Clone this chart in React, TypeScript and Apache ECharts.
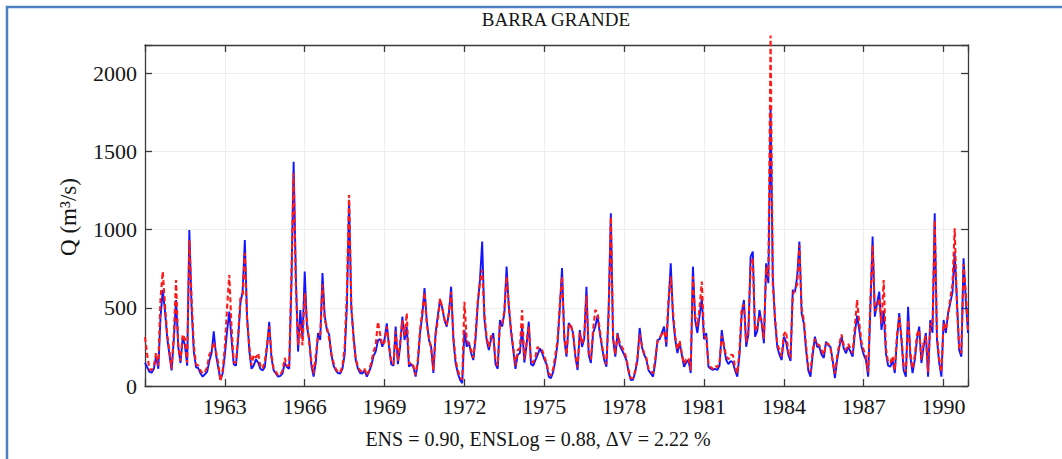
import React, { useEffect, useRef } from "react";
import * as echarts from "echarts";

const START_YEAR = 1960;
const X_TICKS = [1963, 1966, 1969, 1972, 1975, 1978, 1981, 1984, 1987, 1990];
const Y_TICKS = [0, 500, 1000, 1500, 2000];
const TITLE = "BARRA GRANDE";
const Y_LABEL = "Q (m\u00b3/s)";
const CAPTION = "ENS = 0.90, ENSLog = 0.88, \u0394V = 2.22 %";

// Monthly observed discharge (blue, solid), Jan 1960 .. Dec 1990
const observed = [
  150, 120, 90, 85, 110, 190, 110, 440, 614, 480, 310, 200, // 1960
  100, 300, 550, 250, 147, 310, 260, 130, 997, 500, 220, 120, // 1961
  115, 80, 60, 75, 90, 160, 210, 350, 200, 120, 40, 80, // 1962
  200, 350, 475, 300, 140, 130, 300, 530, 600, 933, 450, 230, // 1963
  110, 130, 170, 150, 110, 100, 120, 250, 411, 180, 100, 80, // 1964
  60, 65, 80, 150, 120, 110, 650, 1434, 700, 220, 486, 300, // 1965
  731, 380, 300, 130, 60, 150, 339, 294, 722, 450, 358, 330, // 1966
  200, 130, 100, 83, 80, 110, 200, 507, 1190, 500, 320, 166, // 1967
  110, 83, 80, 100, 60, 90, 130, 192, 220, 290, 300, 251, // 1968
  300, 400, 250, 140, 130, 380, 140, 250, 443, 294, 380, 123, // 1969
  140, 120, 60, 150, 339, 450, 626, 420, 294, 251, 83, 340, // 1970
  450, 550, 498, 420, 380, 465, 635, 300, 147, 83, 40, 18, // 1971
  358, 251, 280, 211, 166, 300, 520, 680, 923, 430, 294, 230, // 1972
  300, 339, 140, 110, 422, 380, 465, 763, 507, 350, 230, 110, // 1973
  200, 211, 380, 150, 260, 411, 140, 130, 166, 200, 240, 211, // 1974
  170, 140, 60, 50, 90, 166, 274, 500, 754, 300, 188, 402, // 1975
  380, 339, 188, 102, 358, 250, 300, 635, 200, 147, 339, 380, // 1976
  450, 339, 250, 166, 123, 486, 1104, 300, 188, 339, 260, 230, // 1977
  200, 166, 90, 38, 40, 90, 166, 371, 250, 200, 170, 100, // 1978
  80, 60, 147, 294, 300, 340, 380, 251, 520, 784, 443, 300, // 1979
  211, 274, 200, 123, 150, 166, 83, 763, 422, 339, 450, 560, // 1980
  300, 339, 123, 110, 102, 110, 102, 130, 358, 250, 166, 140, // 1981
  160, 150, 100, 60, 200, 465, 550, 251, 330, 827, 859, 315, // 1982
  350, 486, 400, 273, 784, 657, 1786, 700, 422, 251, 200, 166, // 1983
  315, 280, 200, 160, 614, 600, 700, 923, 465, 400, 230, 100, // 1984
  60, 200, 315, 250, 250, 200, 180, 283, 260, 250, 166, 50, // 1985
  166, 250, 315, 240, 209, 251, 220, 188, 339, 450, 358, 251, // 1986
  200, 166, 60, 500, 955, 443, 530, 603, 358, 480, 209, 130, // 1987
  123, 166, 83, 300, 466, 294, 100, 60, 507, 188, 83, 166, // 1988
  300, 380, 147, 250, 339, 60, 422, 340, 1104, 300, 150, 60, // 1989
  422, 339, 465, 530, 600, 850, 550, 230, 188, 816, 550, 339, // 1990
];

// Monthly simulated discharge (red, dashed), Jan 1960 .. Dec 1990
const simulated = [
  313, 200, 110, 100, 130, 210, 130, 560, 731, 520, 330, 230, // 1960
  110, 330, 678, 260, 160, 330, 300, 150, 933, 560, 260, 140, // 1961
  130, 100, 80, 90, 120, 200, 230, 280, 220, 150, 30, 100, // 1962
  250, 500, 710, 380, 150, 150, 330, 560, 580, 850, 420, 260, // 1963
  130, 200, 180, 210, 130, 110, 160, 260, 380, 200, 110, 90, // 1964
  70, 70, 100, 180, 130, 130, 700, 1360, 650, 260, 400, 260, // 1965
  594, 420, 280, 160, 80, 200, 320, 330, 650, 420, 380, 300, // 1966
  210, 150, 110, 90, 85, 130, 250, 600, 1221, 520, 300, 180, // 1967
  120, 100, 90, 110, 70, 100, 150, 220, 260, 411, 330, 260, // 1968
  280, 380, 270, 150, 140, 350, 160, 280, 420, 320, 466, 140, // 1969
  150, 130, 70, 170, 360, 480, 600, 400, 310, 240, 100, 320, // 1970
  420, 560, 500, 430, 390, 470, 600, 320, 170, 100, 60, 40, // 1971
  539, 300, 260, 230, 180, 330, 540, 660, 742, 460, 310, 250, // 1972
  320, 320, 160, 130, 400, 400, 480, 700, 520, 360, 250, 130, // 1973
  230, 240, 486, 170, 280, 380, 160, 150, 190, 251, 230, 230, // 1974
  190, 150, 80, 70, 110, 200, 300, 520, 700, 330, 200, 380, // 1975
  400, 320, 200, 120, 340, 270, 320, 580, 220, 170, 360, 486, // 1976
  470, 360, 260, 180, 140, 450, 1080, 320, 200, 330, 280, 250, // 1977
  220, 180, 100, 50, 50, 100, 180, 330, 260, 210, 180, 110, // 1978
  100, 80, 170, 280, 310, 330, 350, 280, 560, 700, 480, 320, // 1979
  230, 290, 210, 140, 170, 180, 100, 700, 450, 380, 500, 667, // 1980
  320, 310, 140, 120, 110, 130, 120, 150, 320, 260, 190, 170, // 1981
  200, 198, 120, 80, 230, 500, 520, 280, 360, 760, 820, 350, // 1982
  380, 450, 420, 300, 760, 700, 2240, 650, 440, 270, 230, 190, // 1983
  330, 350, 220, 180, 580, 620, 650, 900, 500, 420, 260, 120, // 1984
  90, 230, 300, 270, 260, 230, 200, 270, 270, 240, 150, 80, // 1985
  190, 270, 330, 260, 230, 270, 240, 210, 380, 550, 400, 280, // 1986
  230, 190, 90, 550, 900, 480, 500, 560, 400, 678, 240, 150, // 1987
  150, 190, 100, 330, 440, 320, 130, 90, 420, 220, 110, 190, // 1988
  330, 360, 170, 280, 320, 90, 400, 380, 1060, 330, 170, 90, // 1989
  400, 360, 450, 560, 650, 1008, 520, 250, 210, 780, 600, 360, // 1990
];

const FONT = '"Liberation Serif", "Times New Roman", serif';
const AXIS_COLOR = "#3a3a3a";
const TEXT_COLOR = "#151515";

export default function App() {
  const ref = useRef<HTMLDivElement>(null);

  useEffect(() => {
    const chart = echarts.init(ref.current as HTMLDivElement, null, { renderer: "svg" });
    const toPairs = (arr: number[]) => arr.map((v, i) => [START_YEAR + i / 12, v]);
    const xMin = START_YEAR;
    const xMax = START_YEAR + (observed.length - 1) / 12;
    const xLabel = (v: number) => {
      const r = Math.round(v);
      return Math.abs(v - r) < 1e-6 && X_TICKS.includes(r) ? String(r) : "";
    };
    const yLabel = (v: number) => (Y_TICKS.includes(v) ? String(v) : "");

    const baseX = {
      type: "value" as const,
      min: xMin,
      max: xMax,
      interval: 3,
      axisLine: { show: true, onZero: false, lineStyle: { color: AXIS_COLOR, width: 1.3 } },
      axisTick: { show: true, inside: true, length: 7, lineStyle: { color: AXIS_COLOR, width: 1.3 } },
    };
    const baseY = {
      type: "value" as const,
      min: 0,
      max: 2180,
      interval: 500,
      axisLine: { show: true, onZero: false, lineStyle: { color: AXIS_COLOR, width: 1.3 } },
      axisTick: { show: true, inside: true, length: 7, lineStyle: { color: AXIS_COLOR, width: 1.3 } },
    };

    chart.setOption({
      animation: false,
      backgroundColor: "#ffffff",
      grid: { left: 145, top: 45, width: 823, height: 341, containLabel: false },
      xAxis: [
        {
          ...baseX,
          position: "bottom",
          axisLabel: {
            show: true,
            formatter: xLabel,
            margin: 9,
            fontFamily: FONT,
            fontSize: 22,
            color: TEXT_COLOR,
          },
          splitLine: { show: true, lineStyle: { color: "#eeeeee", width: 1 } },
        },
        {
          ...baseX,
          position: "top",
          axisLabel: { show: false },
          splitLine: { show: false },
        },
      ],
      yAxis: [
        {
          ...baseY,
          position: "left",
          axisLabel: {
            show: true,
            formatter: yLabel,
            margin: 8,
            fontFamily: FONT,
            fontSize: 22,
            color: TEXT_COLOR,
          },
          splitLine: { show: true, lineStyle: { color: "#eeeeee", width: 1 } },
        },
        {
          ...baseY,
          position: "right",
          axisLabel: { show: false },
          splitLine: { show: false },
        },
      ],
      series: [
        {
          name: "Observed",
          type: "line",
          xAxisIndex: 0,
          yAxisIndex: 0,
          data: toPairs(observed),
          showSymbol: false,
          symbol: "none",
          lineStyle: { color: "#1414ff", width: 1.9 },
          z: 2,
        },
        {
          name: "Simulated",
          type: "line",
          xAxisIndex: 0,
          yAxisIndex: 0,
          data: toPairs(simulated),
          showSymbol: false,
          symbol: "none",
          clip: false,
          lineStyle: { color: "#ff1a1a", width: 2.1, type: [5, 3] },
          z: 3,
        },
      ],
      graphic: [
        {
          type: "rect",
          shape: { x: 7, y: 7, width: 1200, height: 600 },
          style: { fill: "none", stroke: "#4f7fc0", lineWidth: 2.5 },
          silent: true,
        },
        {
          type: "text",
          x: 556,
          y: 19,
          style: {
            text: TITLE,
            fontFamily: FONT,
            fontSize: 19,
            fill: TEXT_COLOR,
            textAlign: "center",
            textVerticalAlign: "middle",
          },
        },
        {
          type: "text",
          x: 68,
          y: 217,
          rotation: Math.PI / 2,
          style: {
            text: Y_LABEL,
            fontFamily: FONT,
            fontSize: 23,
            fill: TEXT_COLOR,
            textAlign: "center",
            textVerticalAlign: "middle",
          },
        },
        {
          type: "text",
          x: 538,
          y: 439,
          style: {
            text: CAPTION,
            fontFamily: FONT,
            fontSize: 20,
            fill: TEXT_COLOR,
            textAlign: "center",
            textVerticalAlign: "middle",
          },
        },
      ],
    });

    return () => chart.dispose();
  }, []);

  return (
    <div
      ref={ref}
      style={{ position: "fixed", left: 0, top: 0, width: 1062, height: 459, background: "#ffffff" }}
    />
  );
}
